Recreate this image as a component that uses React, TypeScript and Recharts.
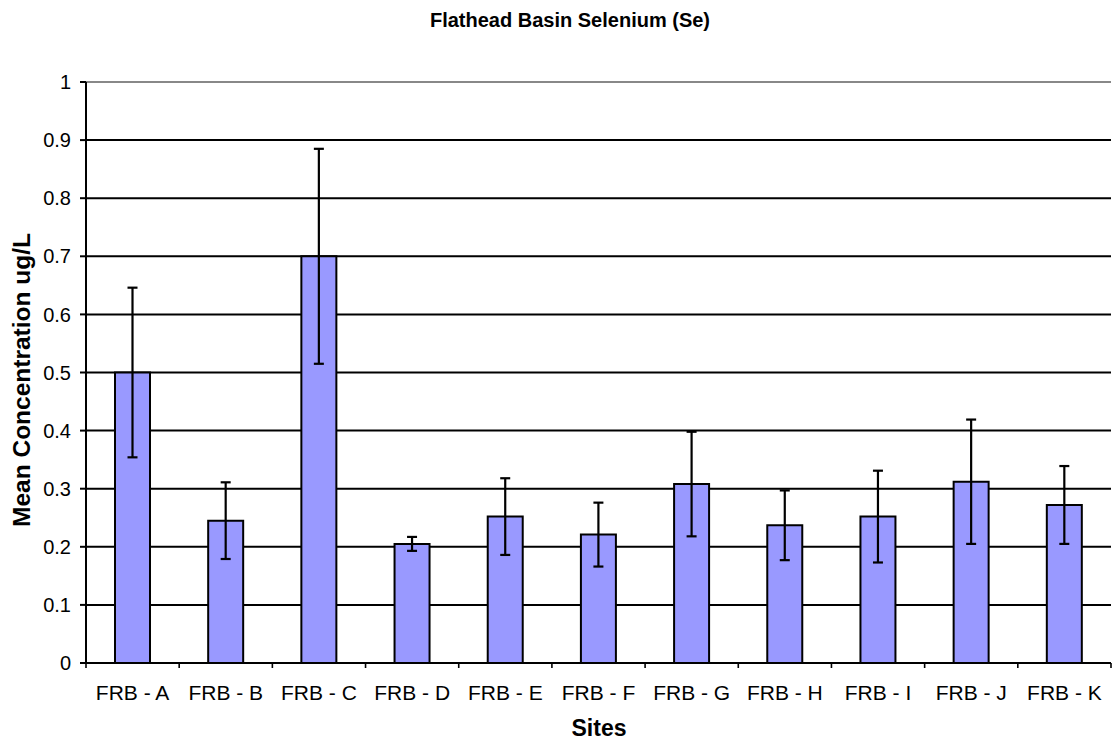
import React from 'react';
import { BarChart, Bar, XAxis, YAxis, CartesianGrid, ErrorBar, ReferenceLine } from 'recharts';

const sites = ['FRB - A', 'FRB - B', 'FRB - C', 'FRB - D', 'FRB - E', 'FRB - F', 'FRB - G', 'FRB - H', 'FRB - I', 'FRB - J', 'FRB - K'];
const means = [0.5, 0.245, 0.7, 0.205, 0.252, 0.221, 0.308, 0.237, 0.252, 0.312, 0.272];
const errs = [0.146, 0.066, 0.185, 0.012, 0.066, 0.055, 0.09, 0.06, 0.079, 0.107, 0.067];
const yTicks = [0, 0.1, 0.2, 0.3, 0.4, 0.5, 0.6, 0.7, 0.8, 0.9, 1];

const data = sites.map((s, i) => ({ site: s, mean: means[i], err: errs[i] }));

const W = 1112;
const H = 740;
const XH = 77;
const M = { top: 82, right: 1, bottom: 0, left: 0 };
const YW = 86;
const FONT = '"Liberation Sans", Arial, sans-serif';
const band = (W - M.left - YW - M.right) / sites.length;

const XTick = (props: any) => {
  const { x, y, payload, index } = props;
  return (
    <g>
      <line x1={x - band / 2} x2={x - band / 2} y1={y - 8} y2={y - 3} stroke="#000" strokeWidth={1.6} />
      {index === sites.length - 1 && (
        <line x1={x + band / 2} x2={x + band / 2} y1={y - 8} y2={y - 3} stroke="#000" strokeWidth={1.6} />
      )}
      <text x={x} y={y + 29} textAnchor="middle" fontSize={21} fontFamily={FONT} fill="#000">
        {payload.value}
      </text>
    </g>
  );
};

export default function App() {
  return (
    <div style={{ position: 'absolute', left: 0, top: 0, width: W, height: H, background: '#fff' }}>
      <BarChart width={W} height={H} data={data} margin={M} barCategoryGap="0%">
        <text x={570} y={27} textAnchor="middle" fontSize={20} fontWeight="bold" fontFamily={FONT} fill="#000">
          Flathead Basin Selenium (Se)
        </text>
        <text x={599} y={736} textAnchor="middle" fontSize={23} fontWeight="bold" fontFamily={FONT} fill="#000">
          Sites
        </text>
        <text
          x={30}
          y={380}
          textAnchor="middle"
          fontSize={24.5}
          fontWeight="bold"
          fontFamily={FONT}
          fill="#000"
          transform="rotate(-90 30 380)"
        >
          Mean Concentration ug/L
        </text>
        <CartesianGrid yAxisId="left" vertical={false} stroke="#000" strokeWidth={2} />
        <XAxis
          dataKey="site"
          axisLine={{ stroke: '#000', strokeWidth: 2 }}
          tickLine={false}
          tick={<XTick />}
          interval={0}
          height={XH}
        />
        <YAxis
          yAxisId="left"
          width={YW}
          domain={[0, 1]}
          ticks={yTicks}
          interval={0}
          tickFormatter={(v: number) => String(Math.round(v * 10) / 10)}
          axisLine={{ stroke: '#000', strokeWidth: 2 }}
          tickLine={{ stroke: '#000', strokeWidth: 2 }}
          tickSize={6}
          tickMargin={9}
          tick={{ fontSize: 20, fontFamily: FONT, fill: '#000' }}
        />
        <YAxis
          yAxisId="right"
          orientation="right"
          width={0}
          domain={[0, 1]}
          tick={false}
          tickLine={false}
          axisLine={{ stroke: '#888', strokeWidth: 1.5 }}
        />
        <ReferenceLine yAxisId="left" y={1} stroke="#888" strokeWidth={2} />
        <Bar
          yAxisId="left"
          dataKey="mean"
          fill="#9999FF"
          stroke="#000"
          strokeWidth={2}
          barSize={35}
          isAnimationActive={false}
        >
          <ErrorBar dataKey="err" width={5} stroke="#000" strokeWidth={2.2} direction="y" />
        </Bar>
      </BarChart>
    </div>
  );
}
